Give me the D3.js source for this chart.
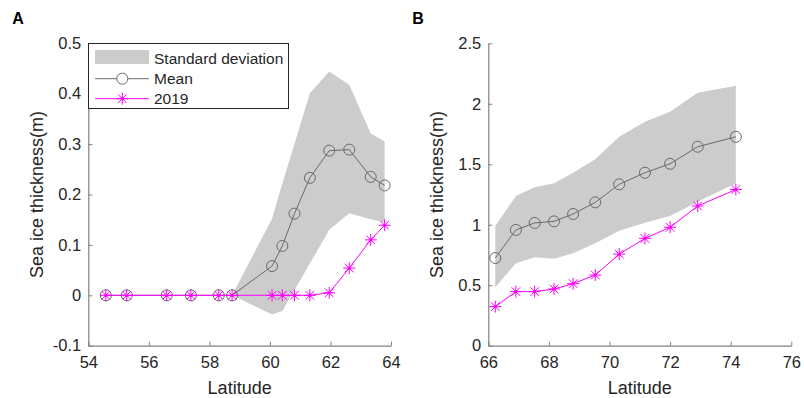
<!DOCTYPE html>
<html>
<head>
<meta charset="utf-8">
<script src="https://cdn.jsdelivr.net/npm/d3@7"></script>
<style>
  body { margin: 0; background: #fff; }
  svg { display: block; font-family: "Liberation Sans", Arial, sans-serif; }
  .tick text { fill: #262626; font-size: 16.5px; }
  .domain, .tick line { stroke: #808080; }
</style>
</head>
<body>
<svg id="chart" width="804" height="398"></svg>
<script>
// ---- panel A data (latitude vs thickness) ----
const latA = [54.58, 55.27, 56.59, 57.39, 58.31, 58.75, 60.07, 60.41, 60.81, 61.32, 61.96, 62.62, 63.33, 63.79];
const meanA = [0, 0, 0, 0, 0, 0, 0.058, 0.098, 0.162, 0.233, 0.287, 0.289, 0.235, 0.218];
const y2019A = [0, 0, 0, 0, 0, 0, 0, 0, 0, 0, 0.005, 0.054, 0.110, 0.139];
const upperA = [0, 0, 0, 0, 0, 0, 0.152, 0.222, 0.300, 0.401, 0.444, 0.418, 0.321, 0.305];
const lowerA = [0, 0, 0, 0, 0, 0, -0.038, -0.031, 0.010, 0.063, 0.130, 0.163, 0.151, 0.145];
const xTicksA = [54, 56, 58, 60, 62, 64];
const yTicksA = [-0.1, 0, 0.1, 0.2, 0.3, 0.4, 0.5];

// ---- panel B data ----
const latB = [66.23, 66.91, 67.53, 68.17, 68.8, 69.53, 70.32, 71.17, 72.0, 72.91, 74.17];
const meanB = [0.725, 0.957, 1.015, 1.028, 1.089, 1.185, 1.334, 1.430, 1.504, 1.645, 1.727];
const y2019B = [0.323, 0.447, 0.447, 0.469, 0.513, 0.584, 0.757, 0.887, 0.979, 1.155, 1.291];
const upperB = [0.99, 1.238, 1.309, 1.342, 1.43, 1.541, 1.728, 1.852, 1.935, 2.092, 2.15];
const lowerB = [0.483, 0.681, 0.731, 0.719, 0.764, 0.847, 0.951, 1.017, 1.072, 1.19, 1.343];
const xTicksB = [66, 68, 70, 72, 74, 76];
const yTicksB = [0, 0.5, 1, 1.5, 2, 2.5];

const legendLabels = ['Standard deviation', 'Mean', '2019'];

const svg = d3.select('#chart');
const plotTop = 43.3, plotBottom = 345.7;
const MEAN_COLOR = '#6a6a6a';
const MAG = '#ff00ff';

// asterisk marker: plus + cross
function star(g, cx, cy) {
    const r = 6, d = r * 0.72;
    const s = g.append('g').attr('transform', `translate(${cx},${cy})`)
        .attr('stroke', MAG).attr('stroke-width', 1);
    s.append('path').attr('d', `M${-r},0H${r}M0,${-r}V${r}M${-d},${-d}L${d},${d}M${-d},${d}L${d},${-d}`);
    s.append('circle').attr('r', 1.6).attr('fill', MAG).attr('stroke', 'none');
}

function panel(opts) {
    const x = d3.scaleLinear().domain(opts.xDomain).range([opts.left, opts.right]);
    const y = d3.scaleLinear().domain(opts.yDomain).range([plotBottom, plotTop]);
    const g = svg.append('g');

    // std band
    const idx = d3.range(opts.bandStart, opts.lat.length);
    g.append('path')
        .datum(idx)
        .attr('fill', '#cccccc')
        .attr('d', d3.area()
            .x(i => x(opts.lat[i]))
            .y0(i => y(opts.lower[i]))
            .y1(i => y(opts.upper[i])));

    // axes
    const xa = g.append('g').attr('transform', `translate(0,${plotBottom})`)
        .call(d3.axisBottom(x).tickValues(opts.xTicks).tickSizeInner(-4).tickSizeOuter(0).tickPadding(10).tickFormat(d3.format('d')));
    const ya = g.append('g').attr('transform', `translate(${opts.left},0)`)
        .call(d3.axisLeft(y).tickValues(opts.yTicks).tickSizeInner(-4).tickSizeOuter(0).tickPadding(7).tickFormat(d => String(+d.toFixed(1))));
    xa.selectAll('.tick text').attr('dy', '0.72em');
    [xa, ya].forEach(a => a.selectAll('.domain').attr('stroke-width', 1.2));

    // mean line + circles
    const all = d3.range(opts.lat.length);
    g.append('path').datum(all)
        .attr('d', d3.line().x(i => x(opts.lat[i])).y(i => y(opts.mean[i])))
        .attr('fill', 'none').attr('stroke', MEAN_COLOR).attr('stroke-width', 1);
    g.selectAll('circle.mean').data(all).enter().append('circle')
        .attr('class', 'mean')
        .attr('cx', i => x(opts.lat[i])).attr('cy', i => y(opts.mean[i]))
        .attr('r', 5.5).attr('fill', 'none').attr('stroke', MEAN_COLOR).attr('stroke-width', 1);

    // 2019 line + stars
    g.append('path').datum(all)
        .attr('d', d3.line().x(i => x(opts.lat[i])).y(i => y(opts.y2019[i])))
        .attr('fill', 'none').attr('stroke', MAG).attr('stroke-width', 1);
    all.forEach(i => star(g, x(opts.lat[i]), y(opts.y2019[i])));

    // labels
    g.append('text')
        .attr('x', (opts.left + opts.right) / 2).attr('y', 394)
        .attr('text-anchor', 'middle').attr('font-size', 18).attr('fill', '#262626')
        .text('Latitude');
    g.append('text')
        .attr('transform', `translate(${opts.left - 45.5},${(plotTop + plotBottom) / 2}) rotate(-90)`)
        .attr('text-anchor', 'middle').attr('font-size', 18).attr('fill', '#262626')
        .text('Sea ice thickness(m)');
    g.append('text')
        .attr('x', opts.left - 76).attr('y', 24)
        .attr('font-size', 16).attr('font-weight', 'bold').attr('fill', '#000')
        .text(opts.tag);
    return g;
}

const gA = panel({
    tag: 'A', left: 88.3, right: 391,
    xDomain: [54, 64], yDomain: [-0.1, 0.5],
    lat: latA, mean: meanA, y2019: y2019A, upper: upperA, lower: lowerA, bandStart: 5,
    xTicks: xTicksA, yTicks: yTicksA
});
panel({
    tag: 'B', left: 488.3, right: 791.3,
    xDomain: [66, 76], yDomain: [0, 2.5],
    lat: latB, mean: meanB, y2019: y2019B, upper: upperB, lower: lowerB, bandStart: 0,
    xTicks: xTicksB, yTicks: yTicksB
});

// ---- legend (panel A, upper left) ----
const lg = gA.append('g');
lg.append('rect').attr('x', 88.5).attr('y', 43.5).attr('width', 200).attr('height', 65)
    .attr('fill', '#fff').attr('stroke', '#262626').attr('stroke-width', 1);
const rowY = [58.7, 78.7, 98.7];
lg.append('rect').attr('x', 95).attr('y', 50).attr('width', 54).attr('height', 14).attr('fill', '#cccccc');
lg.append('line').attr('x1', 95).attr('x2', 149).attr('y1', rowY[1]).attr('y2', rowY[1])
    .attr('stroke', MEAN_COLOR).attr('stroke-width', 1);
lg.append('circle').attr('cx', 122.3).attr('cy', rowY[1]).attr('r', 5.5)
    .attr('fill', '#fff').attr('stroke', MEAN_COLOR);
lg.append('line').attr('x1', 95).attr('x2', 149).attr('y1', rowY[2]).attr('y2', rowY[2])
    .attr('stroke', MAG).attr('stroke-width', 1);
star(lg, 122.3, rowY[2]);
lg.selectAll('text.lbl').data(legendLabels).enter().append('text')
    .attr('class', 'lbl')
    .attr('x', 154).attr('y', (d, i) => rowY[i])
    .attr('dy', '0.36em').attr('font-size', 15.5).attr('fill', '#262626')
    .text(d => d);
</script>
</body>
</html>
